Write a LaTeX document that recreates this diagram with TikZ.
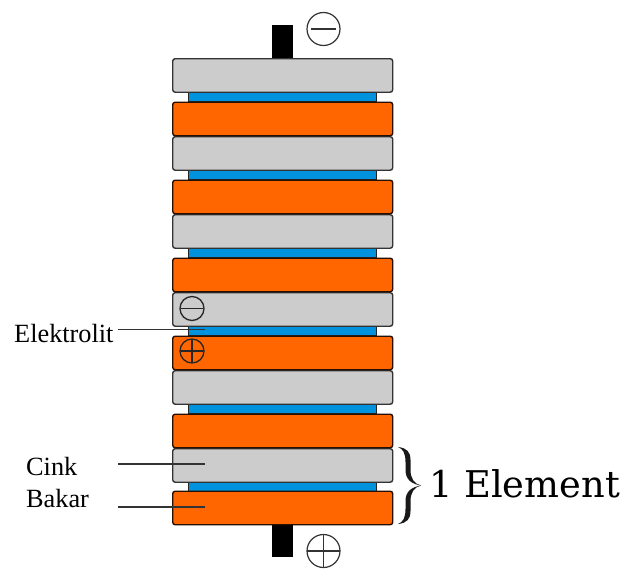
\documentclass[tikz,border=0pt]{standalone}
\usepackage{fontspec}
\setmainfont{Liberation Serif}
\newfontfamily\dejaserif{DejaVu Serif}
\definecolor{zinc}{HTML}{CCCCCC}
\definecolor{copperc}{HTML}{FF6600}
\definecolor{electro}{HTML}{0092DD}
\definecolor{edgeg}{HTML}{333333}
\tikzset{
  platebox/.style={draw=edgeg,line width=1.4pt,rounded corners=2.5pt,minimum width=220pt,minimum height=33.5pt,inner sep=0pt,anchor=north west},
  zincbox/.style={platebox,fill=zinc},
  copperbox/.style={platebox,fill=copperc,draw=black!85!copperc},
  electrobox/.style={draw=black!85,line width=1.2pt,fill=electro,minimum width=188pt,minimum height=10pt,inner sep=0pt,anchor=north west},
  terminal/.style={fill=black,minimum width=21pt,minimum height=33pt,inner sep=0pt,anchor=north west},
  signbig/.style={circle,draw=edgeg,line width=1.2pt,minimum size=33pt,inner sep=0pt},
  signsmall/.style={circle,draw=black!85,line width=1.3pt,minimum size=24pt,inner sep=0pt},
  signline/.style={draw=edgeg,line width=1.2pt},
  smallline/.style={draw=black!85,line width=1.2pt,shorten >=1.5pt,shorten <=1.5pt},
  leader/.style={draw=black!80,line width=1.2pt},
  lab/.style={font=\fontsize{26.3}{28}\selectfont,inner sep=0pt,anchor=base west}
}
\begin{document}
\begin{tikzpicture}[x=1pt,y=-1pt]
\useasboundingbox (0,0) rectangle (624,568);
\fill[white] (0,0) rectangle (624,568);
% terminals
\node[terminal] (ttop) at (272,25) {};
\node[terminal] (tbot) at (272,524) {};
% electrolyte layers
\foreach \n/\y in {1/91,2/169,3/247,4/325,5/403,6/481}
  \node[electrobox] (e\n) at (188,\y) {};
% zinc plates
\foreach \n/\y in {1/58,2/136,3/214,4/292,5/370,6/448}
  \node[zincbox] (z\n) at (172,\y) {};
% copper plates
\foreach \n/\y in {1/101.5,2/179.5,3/257.5,4/335.5,5/413.5,6/490.5}
  \node[copperbox] (c\n) at (172,\y) {};
% big signs
\node[signbig] (minus) at (323.5,29) {};
\draw[signline] ([xshift=-12.5pt]minus.center) -- ([xshift=12.5pt]minus.center);
\node[signbig] (plus) at (323.5,551) {};
\draw[signline] ([xshift=-16.5pt]plus.center) -- ([xshift=16.5pt]plus.center);
\draw[signline] ([yshift=-16.5pt]plus.center) -- ([yshift=16.5pt]plus.center);
% small signs
\node[signsmall] (sminus) at (192,308.5) {};
\draw[smallline] (sminus.west) -- (sminus.east);
\node[signsmall] (splus) at (192,351) {};
\draw[smallline] (splus.west) -- (splus.east);
\draw[smallline] (splus.north) -- (splus.south);
% labels
\node[lab] (lel) at (14,342) {Elektrolit};
\node[lab] (lci) at (26,475.5) {Cink};
\node[lab] (lba) at (26,507) {Bakar};
\node[inner sep=0pt,anchor=base west,font=\dejaserif\fontsize{36.8}{38}\selectfont] (elem) at (429,497) {1 Element};
% brace
\fill[black!90] (398,447) .. controls (407,448) and (410.5,452) .. (410.5,460) -- (410.5,470)
  .. controls (410.5,478) and (414,484) .. (421,485.5)
  .. controls (414,487) and (410.5,493) .. (410.5,501) -- (410.5,511)
  .. controls (410.5,519) and (407,523) .. (398,524)
  .. controls (403,522) and (405.5,518) .. (405.5,509) -- (405.5,501)
  .. controls (405.5,491) and (412,487) .. (421,485.5)
  .. controls (412,484) and (405.5,480) .. (405.5,470) -- (405.5,462)
  .. controls (405.5,453) and (403,449) .. (398,447) -- cycle;
% leaders
\coordinate (a1) at (118,329.5);
\coordinate (a2) at (118,464);
\coordinate (a3) at (118,507);
\coordinate (b1) at (205,329.5);
\coordinate (b2) at (205,464);
\coordinate (b3) at (205,507);
\draw[leader] (a1) -- (b1);
\draw[leader] (a2) -- (b2);
\draw[leader] (a3) -- (b3);
\end{tikzpicture}
\end{document}
